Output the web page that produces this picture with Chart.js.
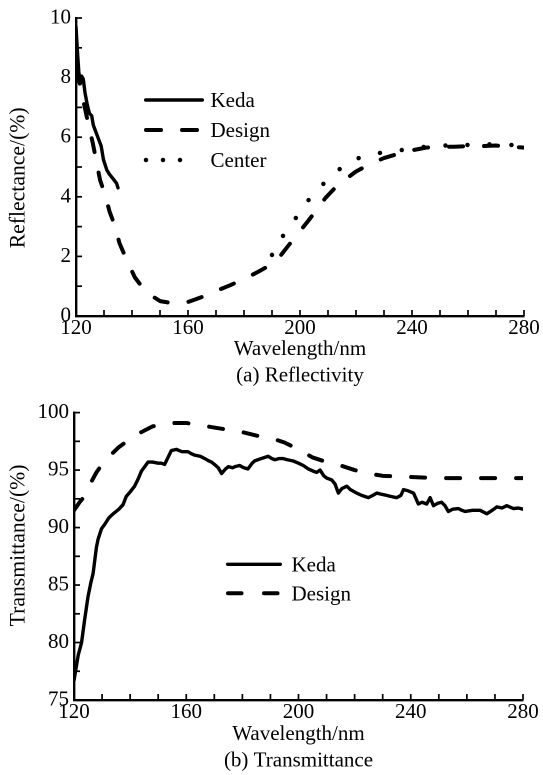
<!DOCTYPE html>
<html>
<head>
<meta charset="utf-8">
<script src="https://cdn.jsdelivr.net/npm/chart.js@4.4.1/dist/chart.umd.min.js"></script>
<style>
  html, body { margin: 0; padding: 0; background: #fff; overflow: hidden; }
  canvas { position: absolute; left: 0; display: block; }
  #c1 { top: 0; }
  #c2 { top: 395px; }
</style>
</head>
<body>
<canvas id="c1" width="543" height="395"></canvas>
<canvas id="c2" width="543" height="380"></canvas>
<script>
// ---- (a) Reflectivity ----
const kedaReflWl = [120, 120.5, 121, 121.5, 122, 122.6, 123.2, 124, 124.8, 125.6, 126.2, 127, 128, 129, 129.8, 131, 132, 133.3, 134.5, 135];
const kedaRefl   = [9.7, 8.9, 8.2, 7.8, 8.05, 7.95, 7.5, 7.1, 6.8, 6.72, 6.4, 6.2, 5.95, 5.7, 5.25, 4.9, 4.75, 4.6, 4.45, 4.3];

const designReflWl = [120, 121.5, 123, 124.5, 126, 127.4, 128.6, 130.4, 132, 134, 135.5, 138, 141, 145, 150, 155, 160, 165, 170, 175, 180, 185, 190, 193, 196, 200, 203, 206, 209, 212, 215, 220, 225, 230, 235, 240, 245, 250, 255, 260, 265, 270, 275, 280];
const designRefl   = [8.25, 7.75, 7.05, 6.4, 5.8, 5.13, 4.56, 4.06, 3.5, 3.0, 2.45, 1.9, 1.3, 0.8, 0.5, 0.42, 0.47, 0.64, 0.84, 1.03, 1.24, 1.48, 1.74, 2.02, 2.38, 2.85, 3.2, 3.57, 3.95, 4.25, 4.5, 4.85, 5.1, 5.3, 5.44, 5.56, 5.65, 5.68, 5.68, 5.7, 5.7, 5.72, 5.68, 5.65];

const centerReflWl = [190, 192, 194, 197, 199, 201, 204, 207, 210, 213, 217, 221, 225, 230, 235, 240, 245, 250, 255, 260, 265, 270, 275, 280];
const centerRefl   = [2.05, 2.4, 2.7, 3.1, 3.35, 3.65, 4.0, 4.3, 4.6, 4.85, 5.12, 5.3, 5.4, 5.5, 5.55, 5.62, 5.68, 5.72, 5.72, 5.74, 5.75, 5.77, 5.74, 5.72];

// ---- (b) Transmittance ----
const kedaTransWl = [120, 121.5, 122.7, 123.8, 125, 126, 126.8, 128, 128.6, 129.8, 131, 132.3, 133.5, 134.5, 136, 137.5, 138.6, 140, 141.6, 143, 144, 145.5, 146.4, 148, 150, 151.1, 152.3, 153.5, 154.7, 156.5, 158.5, 160.6, 162, 163, 165, 166.6, 168, 169, 170.5, 171.4, 172.6, 174, 175, 176.5, 177.4, 179, 180.5, 182, 183.5, 184.4, 186.7, 189.2, 190.5, 191.6, 193, 194.6, 196, 198, 200, 201.7, 203.5, 205.3, 206.5, 207.7, 209, 210.1, 211.8, 213, 214.2, 215.5, 217.2, 218.5, 220.7, 222.5, 224.9, 226.5, 227.9, 229.5, 231.4, 233, 235, 236.5, 237.4, 239, 241, 242.7, 244, 245.7, 246.9, 248.1, 249.5, 251, 252.2, 253.4, 255, 257, 258.2, 259.4, 262, 264.7, 267.1, 269, 270.7, 272.5, 274.2, 276.6, 278.3, 280];
const kedaTrans   = [76.7, 78.9, 80.0, 82.0, 84.0, 85.2, 86.0, 88.3, 89.0, 89.9, 90.3, 90.8, 91.1, 91.3, 91.6, 92.0, 92.7, 93.1, 93.6, 94.3, 94.9, 95.4, 95.7, 95.7, 95.6, 95.6, 95.5, 96.1, 96.7, 96.8, 96.6, 96.6, 96.4, 96.3, 96.2, 96.0, 95.8, 95.7, 95.4, 95.2, 94.7, 95.1, 95.3, 95.2, 95.3, 95.4, 95.2, 95.1, 95.6, 95.8, 96.0, 96.2, 96.0, 95.9, 96.0, 96.0, 95.9, 95.8, 95.6, 95.4, 95.1, 94.9, 94.8, 95.0, 94.5, 94.3, 94.15, 93.8, 93.0, 93.4, 93.6, 93.3, 93.0, 92.8, 92.6, 92.8, 93.0, 92.9, 92.8, 92.7, 92.6, 92.8, 93.3, 93.2, 93.0, 92.05, 92.2, 92.05, 92.6, 91.9, 92.1, 92.2, 91.9, 91.4, 91.6, 91.65, 91.5, 91.4, 91.5, 91.5, 91.2, 91.5, 91.8, 91.7, 91.9, 91.65, 91.7, 91.6];

const designTransWl = [120, 122, 124, 126, 128, 130, 133, 136, 140, 144, 148, 152, 156, 160, 165, 170, 175, 180, 185, 190, 195, 200, 205, 210, 215, 220, 225, 230, 235, 240, 250, 260, 270, 280];
const designTrans   = [91.5, 92.2, 92.8, 93.9, 94.8, 95.5, 96.3, 97.0, 97.7, 98.3, 98.8, 99.0, 99.1, 99.1, 98.9, 98.7, 98.5, 98.3, 98.0, 97.8, 97.4, 96.8, 96.1, 95.7, 95.4, 95.0, 94.7, 94.5, 94.45, 94.4, 94.3, 94.3, 94.3, 94.3];

// axis ranges and labels
const wlRange = [120, 280];
const reflRange = [0, 10];
const transRange = [75, 100];
const reflSeries = ['Keda', 'Design', 'Center'];
const transSeries = ['Keda', 'Design'];

const W = 543;
const FONT = "'Liberation Serif', 'Times New Roman', serif";
const FS = 21;      // tick labels, x titles, legend
const FS_Y = 21.7;  // rotated y titles
const pts = (xs, ys) => xs.map((x, i) => ({ x, y: ys[i] }));

const solid  = { borderDash: [], borderWidth: 3.4 };
const dashed = { borderDash: [14, 21], borderWidth: 4 };
const dotted = { borderDash: [0, 22], borderWidth: 4.5 };

function lineDs(label, data, style) {
  return {
    label, data,
    borderColor: '#000', backgroundColor: '#000',
    borderWidth: style.borderWidth, borderDash: style.borderDash,
    borderCapStyle: 'round', borderJoinStyle: 'round',
    pointRadius: 0, tension: 0, fill: false
  };
}

// short tick marks pointing into the plot
const inwardTicks = {
  id: 'inwardTicks',
  afterDraw(chart, args, o) {
    const { ctx, chartArea, scales: { x, y } } = chart;
    ctx.save();
    ctx.strokeStyle = '#000';
    ctx.lineWidth = 1.7;
    for (let v = x.min; v <= x.max + 1e-9; v += o.xStep) {
      const p = x.getPixelForValue(v);
      ctx.beginPath(); ctx.moveTo(p, chartArea.bottom); ctx.lineTo(p, chartArea.bottom - o.len); ctx.stroke();
    }
    for (let v = y.min; v <= y.max + 1e-9; v += o.yStep) {
      const p = y.getPixelForValue(v);
      ctx.beginPath(); ctx.moveTo(chartArea.left, p); ctx.lineTo(chartArea.left + o.len, p); ctx.stroke();
    }
    ctx.restore();
  }
};

// legend drawn inside the plot: a line sample followed by the series name
const insideLegend = {
  id: 'insideLegend',
  afterDraw(chart, args, o) {
    const { ctx } = chart;
    ctx.save();
    ctx.fillStyle = '#000';
    ctx.strokeStyle = '#000';
    ctx.font = FS + 'px ' + FONT;
    ctx.textBaseline = 'middle';
    ctx.textAlign = 'left';
    chart.data.datasets.forEach((ds, i) => {
      const y = o.y0 + i * o.dy;
      const st = o.styles[i];
      ctx.lineWidth = st.w;
      ctx.lineCap = 'round';
      ctx.setLineDash(st.dash);
      ctx.beginPath(); ctx.moveTo(st.x0, y); ctx.lineTo(st.x1, y); ctx.stroke();
      ctx.setLineDash([]);
      ctx.fillText(ds.label, o.tx, y + 1.5);
    });
    ctx.restore();
  }
};

function axisOpts(extra) {
  return Object.assign({
    grid: { display: true, drawOnChartArea: false, drawTicks: false },
    border: { display: true, color: '#000', width: 2.4 },
  }, extra);
}

function makeChart(id, cfg) {
  return new Chart(document.getElementById(id), {
    type: 'line',
    data: { datasets: cfg.datasets },
    options: {
      responsive: false,
      animation: false,
      devicePixelRatio: 2,
      layout: { padding: cfg.padding },
      plugins: {
        legend: { display: false },
        tooltip: { enabled: false },
        inwardTicks: cfg.ticks,
        insideLegend: cfg.legend
      },
      scales: {
        x: axisOpts({
          type: 'linear', min: wlRange[0], max: wlRange[1],
          ticks: { stepSize: 40, padding: 0, color: '#000', maxRotation: 0, autoSkip: false, font: { family: FONT, size: FS } },
          title: { display: true, text: cfg.xTitle, color: '#000', font: { family: FONT, size: FS, lineHeight: 1.26 }, padding: { top: 0, bottom: cfg.xTitlePad } },
          afterFit: s => { s.height = cfg.xHeight; }
        }),
        y: axisOpts({
          type: 'linear', min: cfg.yRange[0], max: cfg.yRange[1],
          ticks: { stepSize: cfg.yStep, padding: 5, color: '#000', font: { family: FONT, size: FS } },
          title: { display: true, text: cfg.yTitle, color: '#000', font: { family: FONT, size: FS_Y }, padding: { top: 6, bottom: 0 } },
          afterFit: s => { s.width = cfg.yWidth; }
        })
      }
    },
    plugins: [inwardTicks, insideLegend]
  });
}

makeChart('c1', {
  datasets: [
    lineDs(reflSeries[0], pts(kedaReflWl, kedaRefl), solid),
    lineDs(reflSeries[1], pts(designReflWl, designRefl), dashed),
    lineDs(reflSeries[2], pts(centerReflWl, centerRefl), dotted)
  ],
  padding: { left: 0, right: W - 524, top: 18, bottom: 0 },
  yWidth: 76,
  xHeight: 79,
  xTitle: ['Wavelength/nm', '(a) Reflectivity'],
  xTitlePad: 5.75,
  // title sits a little below the middle of the axis
  yTitle: 'Reflectance/(%)    ',
  yRange: reflRange, yStep: 2,
  ticks: { xStep: 10, yStep: 1, len: 6 },
  legend: {
    tx: 210.5, y0: 100, dy: 30,
    styles: [
      { w: 3.4, dash: [], x0: 145.7, x1: 202.3 },
      { w: 4, dash: [15, 21], x0: 146, x1: 197 },
      { w: 4.5, dash: [0, 17], x0: 146, x1: 197 }
    ]
  }
});

makeChart('c2', {
  datasets: [
    lineDs(transSeries[0], pts(kedaTransWl, kedaTrans), solid),
    lineDs(transSeries[1], pts(designTransWl, designTrans), dashed)
  ],
  padding: { left: 0, right: W - 523, top: 6, bottom: 0 },
  yWidth: 74,
  xHeight: 75,
  xTitle: ['Wavelength/nm', '(b) Transmittance'],
  xTitlePad: 0.75,
  // title sits a little above the middle of the axis
  yTitle: '    Transmittance/(%)',
  yRange: transRange, yStep: 5,
  ticks: { xStep: 10, yStep: 2.5, len: 6 },
  legend: {
    tx: 291.5, y0: 169.3, dy: 29,
    styles: [
      { w: 3.4, dash: [], x0: 227.7, x1: 280.3 },
      { w: 4, dash: [13.5, 22.5], x0: 228, x1: 278 }
    ]
  }
});
</script>
</body>
</html>
